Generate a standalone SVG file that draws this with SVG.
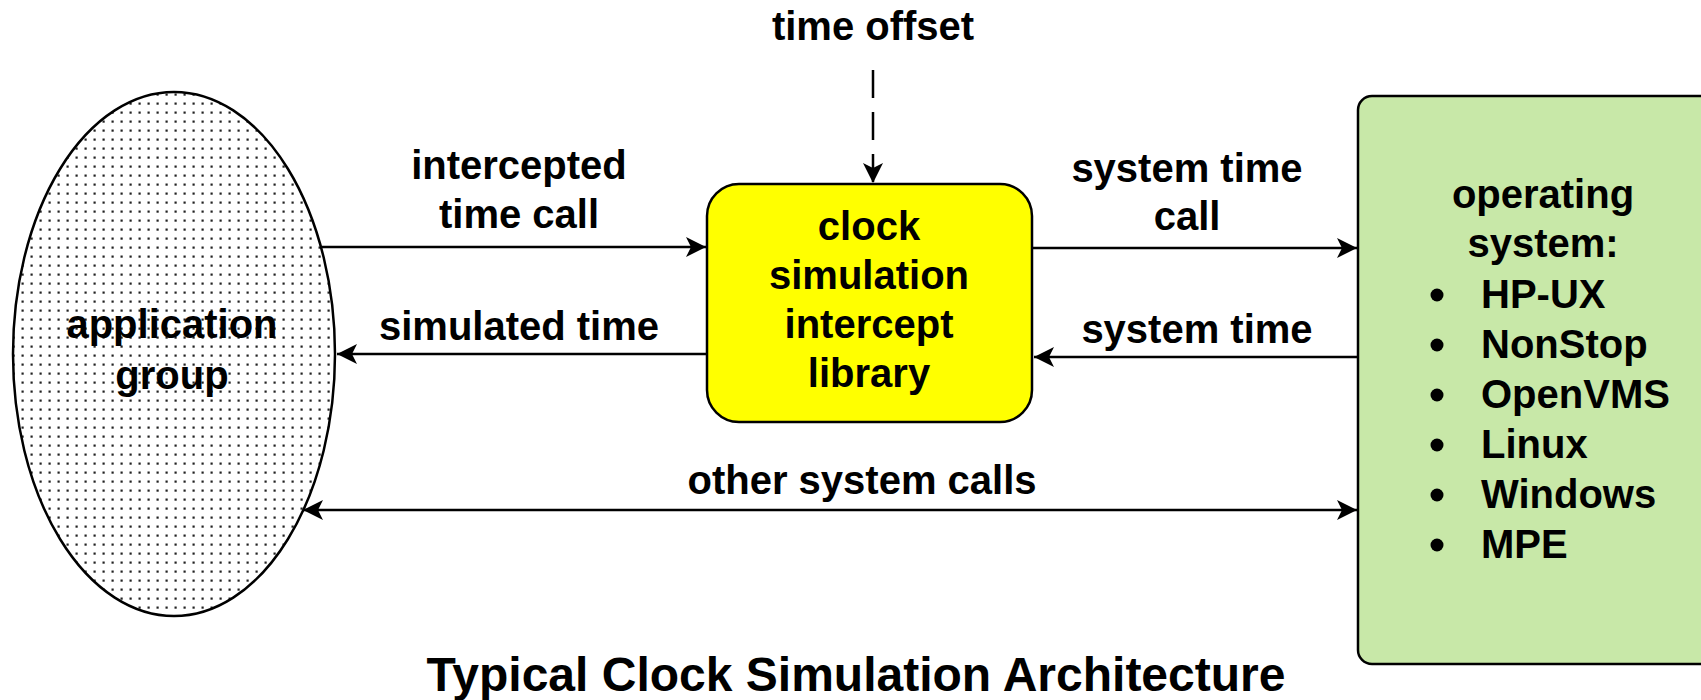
<svg xmlns="http://www.w3.org/2000/svg" width="1701" height="700" viewBox="0 0 1701 700">
<defs>
<pattern id="dots" x="0" y="0" width="9" height="9" patternUnits="userSpaceOnUse">
<rect x="3.5" y="3.5" width="2.2" height="2.2" fill="#222"/>
</pattern>
<marker id="ah" viewBox="0 0 20 20" refX="20" refY="10" markerWidth="20" markerHeight="20" markerUnits="userSpaceOnUse" orient="auto-start-reverse">
<path d="M0,0 L20,10 L0,20 L5,10 Z" fill="#000"/>
</marker>
<style>
text{font-family:"Liberation Sans",Arial,sans-serif;font-weight:bold;fill:#000;}
.t{font-size:40px;text-anchor:middle;}
.os{font-size:40px;}
.c{stroke:#000;stroke-width:2.5;fill:none;}
</style>
</defs>
<rect width="1701" height="700" fill="#fff"/>
<g id="connectors">
<line class="c" x1="321" y1="247" x2="706" y2="247" marker-end="url(#ah)"/>
<line class="c" x1="707" y1="354" x2="337" y2="354" marker-end="url(#ah)"/>
<line class="c" x1="1032" y1="248" x2="1357" y2="248" marker-end="url(#ah)"/>
<line class="c" x1="1358" y1="357" x2="1034" y2="357" marker-end="url(#ah)"/>
<line class="c" x1="303" y1="510" x2="1357" y2="510" marker-start="url(#ah)" marker-end="url(#ah)"/>
<line class="c" x1="873" y1="70" x2="873" y2="183" stroke-dasharray="28,14" marker-end="url(#ah)"/>
<text class="t" x="519" y="179">intercepted</text>
<text class="t" x="519" y="228">time call</text>
<text class="t" x="519" y="340">simulated time</text>
<text class="t" x="1187" y="182">system time</text>
<text class="t" x="1187" y="230">call</text>
<text class="t" x="1197" y="343">system time</text>
<text class="t" x="862" y="494">other system calls</text>
<text class="t" x="873" y="40">time offset</text>
</g>
<g id="app">
<ellipse cx="174" cy="354" rx="161" ry="262" fill="#fff" stroke="none"/>
<ellipse cx="174" cy="354" rx="161" ry="262" fill="url(#dots)" stroke="#000" stroke-width="2.5"/>
<text class="t" x="172" y="338">application</text>
<text class="t" x="172" y="389">group</text>
</g>
<g id="lib">
<rect x="707" y="184" width="325" height="238" rx="32" fill="#ffff00" stroke="#000" stroke-width="2.5"/>
<text class="t" x="869" y="240">clock</text>
<text class="t" x="869" y="289">simulation</text>
<text class="t" x="869" y="338">intercept</text>
<text class="t" x="869" y="387">library</text>
</g>
<g id="os">
<rect x="1358" y="96" width="360" height="568" rx="14" fill="#c8e8a8" stroke="#000" stroke-width="2.5"/>
<text class="t" x="1543" y="208">operating</text>
<text class="t" x="1543" y="257">system:</text>
<g fill="#000">
<circle cx="1437" cy="295" r="6.5"/>
<circle cx="1437" cy="345" r="6.5"/>
<circle cx="1437" cy="395" r="6.5"/>
<circle cx="1437" cy="445" r="6.5"/>
<circle cx="1437" cy="495" r="6.5"/>
<circle cx="1437" cy="545" r="6.5"/>
</g>
<text class="os" x="1481" y="308">HP-UX</text>
<text class="os" x="1481" y="358">NonStop</text>
<text class="os" x="1481" y="408">OpenVMS</text>
<text class="os" x="1481" y="458">Linux</text>
<text class="os" x="1481" y="508">Windows</text>
<text class="os" x="1481" y="558">MPE</text>
</g>
<text x="856" y="691" style="font-size:48px;text-anchor:middle;">Typical Clock Simulation Architecture</text>
</svg>
